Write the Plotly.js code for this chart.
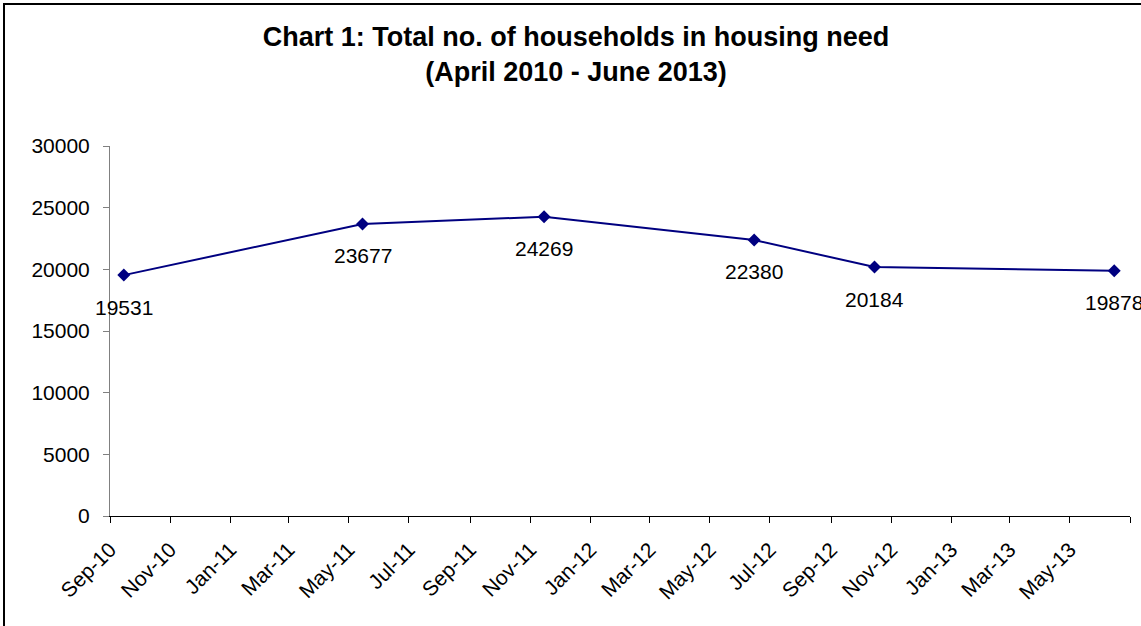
<!DOCTYPE html>
<html>
<head>
<meta charset="utf-8">
<script src="https://cdn.plot.ly/plotly-3.0.1.min.js"></script>
<style>
  html, body { margin: 0; padding: 0; background: #ffffff; overflow: hidden; }
  #wrap { position: absolute; left: 0; top: 0; width: 1141px; height: 626px; overflow: hidden; background: #ffffff; }
  #chart { position: absolute; left: 0; top: 0; width: 1141px; height: 626px; z-index: 1; }
  #frame { position: absolute; left: 3px; top: 3px; width: 1200px; height: 700px; border: 2px solid #000000; box-sizing: border-box; z-index: 2; pointer-events: none; }
</style>
</head>
<body>
<div id="wrap">
  <div id="chart"></div>
  <div id="frame"></div>
</div>
<script>
// Data
const dates = ['2010-09-15', '2011-05-15', '2011-11-15', '2012-06-15', '2012-10-15', '2013-06-15'];
const households = [19531, 23677, 24269, 22380, 20184, 19878];

// X axis tick positions and labels (every two months)
const tickDates = ['2010-09-01', '2010-11-01', '2011-01-01', '2011-03-01', '2011-05-01', '2011-07-01',
                   '2011-09-01', '2011-11-01', '2012-01-01', '2012-03-01', '2012-05-01', '2012-07-01',
                   '2012-09-01', '2012-11-01', '2013-01-01', '2013-03-01', '2013-05-01', '2013-07-01'];
const tickLabels = ['Sep-10', 'Nov-10', 'Jan-11', 'Mar-11', 'May-11', 'Jul-11',
                    'Sep-11', 'Nov-11', 'Jan-12', 'Mar-12', 'May-12', 'Jul-12',
                    'Sep-12', 'Nov-12', 'Jan-13', 'Mar-13', 'May-13', ''];
const yTicks = [0, 5000, 10000, 15000, 20000, 25000, 30000];

const FONT = 'Liberation Sans, Arial, Helvetica, sans-serif';
const NAVY = '#000080';

const trace = {
  type: 'scatter',
  mode: 'lines+markers',
  x: dates,
  y: households,
  line: { color: NAVY, width: 2 },
  marker: { symbol: 'diamond', size: 10, color: NAVY, line: { width: 0 } },
  hoverinfo: 'skip',
  cliponaxis: false
};

const annotations = dates.map((d, i) => ({
  x: d,
  y: households[i],
  xref: 'x',
  yref: 'y',
  text: String(households[i]),
  showarrow: false,
  yshift: -32,
  font: { family: FONT, size: 21, color: '#000000' }
}));

const layout = {
  width: 1141,
  height: 626,
  margin: { l: 110, r: 11, t: 146, b: 110, pad: 0 },
  paper_bgcolor: 'rgba(0,0,0,0)',
  plot_bgcolor: 'rgba(0,0,0,0)',
  showlegend: false,
  title: {
    text: '<b>Chart 1: Total no. of households in housing need</b><br><b>(April 2010 - June 2013)</b>',
    font: { family: FONT, size: 27, color: '#000000' },
    xref: 'container',
    x: 576 / 1141,
    xanchor: 'center',
    yref: 'container',
    y: 1 - 46 / 626,
    yanchor: 'top'
  },
  xaxis: {
    type: 'date',
    range: ['2010-09-01', '2013-07-01'],
    tickmode: 'array',
    tickvals: tickDates,
    ticktext: tickLabels,
    tickangle: -45,
    ticks: 'outside',
    ticklen: 6,
    tickwidth: 1,
    tickcolor: '#000000',
    showline: true,
    linecolor: '#000000',
    linewidth: 1,
    showgrid: false,
    zeroline: false,
    ticklabelstandoff: 6,
    tickfont: { family: FONT, size: 21, color: '#000000' }
  },
  yaxis: {
    range: [0, 30000],
    tickmode: 'array',
    tickvals: yTicks,
    ticktext: yTicks.map(String),
    ticks: 'outside',
    ticklen: 6,
    tickwidth: 1,
    tickcolor: '#808080',
    showline: true,
    linecolor: '#808080',
    linewidth: 1,
    showgrid: false,
    zeroline: false,
    ticklabelstandoff: 9,
    tickfont: { family: FONT, size: 21, color: '#000000' }
  },
  annotations: annotations
};

Plotly.newPlot('chart', [trace], layout, { staticPlot: true, displayModeBar: false });
</script>
</body>
</html>
